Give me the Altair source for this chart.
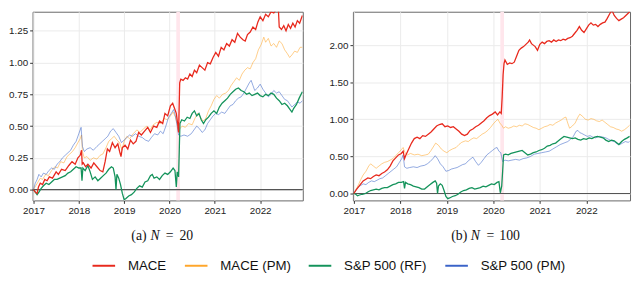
import altair as alt
import pandas as pd

SERIES = ["MACE", "MACE (PM)", "S&P 500 (RF)", "S&P 500 (PM)"]
COLORS = ["#E8291D", "#FFA62B", "#14935B", "#3A63C8"]
YEARS = [2017, 2018, 2019, 2020, 2021, 2022]
X_DOMAIN = [2016.98, 2022.94]
COVID_START = [2020.15]
COVID_END = [2020.23]

# ---------------- panel (a): N = 20 ----------------
a_yticks = [0.0, 0.25, 0.50, 0.75, 1.00, 1.25]
a_ydomain = [-0.085, 1.40]
a_caption = ["(a)", "N", "=", "20"]

a_mace_t = [2017.00, 2017.04, 2017.08, 2017.11, 2017.15, 2017.2, 2017.25, 2017.3, 2017.35, 2017.42, 2017.5, 2017.55, 2017.62, 2017.7, 2017.78, 2017.85, 2017.92, 2017.98, 2018.03, 2018.06, 2018.075, 2018.1, 2018.15, 2018.2, 2018.27, 2018.33, 2018.4, 2018.47, 2018.53, 2018.58, 2018.63, 2018.68, 2018.74, 2018.8, 2018.86, 2018.9, 2018.93, 2018.96, 2019.02, 2019.08, 2019.14, 2019.2, 2019.26, 2019.32, 2019.38, 2019.45, 2019.52, 2019.58, 2019.65, 2019.72, 2019.78, 2019.85, 2019.9, 2019.96, 2020.02, 2020.07, 2020.11, 2020.15, 2020.18, 2020.2, 2020.21, 2020.225, 2020.25, 2020.3, 2020.35, 2020.4, 2020.45, 2020.5, 2020.55, 2020.6, 2020.66, 2020.72, 2020.78, 2020.84, 2020.9, 2020.96, 2021.02, 2021.08, 2021.14, 2021.2, 2021.26, 2021.32, 2021.38, 2021.44, 2021.5, 2021.56, 2021.62, 2021.67, 2021.72, 2021.78, 2021.84, 2021.9, 2021.95, 2022.0, 2022.06, 2022.12, 2022.18, 2022.24, 2022.3, 2022.36, 2022.4, 2022.42, 2022.47, 2022.52, 2022.57, 2022.62, 2022.67, 2022.72, 2022.77, 2022.82, 2022.87, 2022.93]
a_mace_v = [0.00, -0.02, -0.03, 0.02, 0.05, 0.04, 0.08, 0.07, 0.10, 0.09, 0.14, 0.12, 0.16, 0.15, 0.19, 0.22, 0.20, 0.25, 0.27, 0.31, 0.20, 0.21, 0.18, 0.20, 0.17, 0.21, 0.18, 0.15, 0.14, 0.22, 0.32, 0.30, 0.37, 0.33, 0.36, 0.30, 0.26, 0.33, 0.35, 0.32, 0.39, 0.36, 0.38, 0.45, 0.43, 0.46, 0.49, 0.45, 0.50, 0.49, 0.54, 0.52, 0.60, 0.58, 0.66, 0.68, 0.64, 0.60, 0.52, 0.45, 0.60, 0.84, 0.87, 0.86, 0.88, 0.87, 0.91, 0.89, 0.94, 0.92, 0.98, 0.96, 0.94, 1.00, 0.99, 1.04, 1.08, 1.05, 1.12, 1.10, 1.15, 1.13, 1.18, 1.16, 1.23, 1.20, 1.18, 1.17, 1.22, 1.24, 1.28, 1.26, 1.32, 1.36, 1.33, 1.38, 1.36, 1.40, 1.39, 1.42, 1.43, 1.28, 1.26, 1.29, 1.25, 1.30, 1.27, 1.31, 1.28, 1.33, 1.31, 1.37]

a_macepm_t = [2017.0, 2017.05, 2017.1, 2017.15, 2017.2, 2017.27, 2017.33, 2017.4, 2017.47, 2017.53, 2017.6, 2017.67, 2017.74, 2017.8, 2017.86, 2017.92, 2017.98, 2018.03, 2018.06, 2018.08, 2018.12, 2018.18, 2018.25, 2018.32, 2018.4, 2018.47, 2018.53, 2018.6, 2018.66, 2018.72, 2018.78, 2018.84, 2018.9, 2018.95, 2019.0, 2019.06, 2019.12, 2019.2, 2019.28, 2019.35, 2019.43, 2019.5, 2019.57, 2019.64, 2019.72, 2019.8, 2019.88, 2019.95, 2020.02, 2020.08, 2020.13, 2020.17, 2020.2, 2020.23, 2020.28, 2020.35, 2020.42, 2020.5, 2020.56, 2020.62, 2020.68, 2020.74, 2020.8, 2020.86, 2020.92, 2020.98, 2021.04, 2021.1, 2021.17, 2021.24, 2021.3, 2021.36, 2021.42, 2021.48, 2021.54, 2021.6, 2021.66, 2021.72, 2021.78, 2021.84, 2021.9, 2021.96, 2022.02, 2022.08, 2022.12, 2022.18, 2022.24, 2022.3, 2022.36, 2022.42, 2022.48, 2022.54, 2022.6, 2022.65, 2022.7, 2022.76, 2022.82, 2022.88, 2022.93]
a_macepm_v = [0.0, 0.03, 0.06, 0.09, 0.08, 0.12, 0.11, 0.15, 0.18, 0.17, 0.22, 0.21, 0.26, 0.28, 0.30, 0.33, 0.37, 0.40, 0.43, 0.30, 0.25, 0.26, 0.23, 0.25, 0.24, 0.27, 0.28, 0.33, 0.38, 0.40, 0.42, 0.39, 0.37, 0.31, 0.38, 0.42, 0.40, 0.44, 0.47, 0.45, 0.48, 0.50, 0.47, 0.51, 0.53, 0.52, 0.56, 0.55, 0.58, 0.61, 0.57, 0.52, 0.46, 0.48, 0.50, 0.49, 0.52, 0.51, 0.56, 0.60, 0.57, 0.54, 0.56, 0.62, 0.66, 0.71, 0.74, 0.72, 0.75, 0.76, 0.78, 0.82, 0.85, 0.88, 0.86, 0.91, 0.94, 0.96, 0.95, 1.00, 1.03, 1.10, 1.14, 1.20, 1.16, 1.19, 1.13, 1.15, 1.12, 1.17, 1.15, 1.10, 1.07, 1.04, 1.06, 1.09, 1.08, 1.12, 1.12]

a_sprf_t = [2017.0, 2017.04, 2017.08, 2017.12, 2017.17, 2017.22, 2017.28, 2017.34, 2017.4, 2017.46, 2017.52, 2017.58, 2017.64, 2017.7, 2017.76, 2017.82, 2017.88, 2017.94, 2018.0, 2018.05, 2018.07, 2018.09, 2018.14, 2018.2, 2018.25, 2018.3, 2018.36, 2018.42, 2018.48, 2018.54, 2018.6, 2018.66, 2018.72, 2018.76, 2018.8, 2018.82, 2018.84, 2018.88, 2018.92, 2018.96, 2019.0, 2019.04, 2019.1, 2019.16, 2019.22, 2019.28, 2019.34, 2019.4, 2019.46, 2019.52, 2019.58, 2019.62, 2019.66, 2019.72, 2019.78, 2019.84, 2019.9, 2019.96, 2020.02, 2020.08, 2020.12, 2020.15, 2020.17, 2020.2, 2020.215, 2020.23, 2020.27, 2020.33, 2020.39, 2020.45, 2020.5, 2020.55, 2020.6, 2020.65, 2020.7, 2020.75, 2020.8, 2020.86, 2020.92, 2020.98, 2021.04, 2021.1, 2021.16, 2021.22, 2021.28, 2021.34, 2021.4, 2021.46, 2021.52, 2021.58, 2021.64, 2021.7, 2021.76, 2021.82, 2021.88, 2021.94, 2022.0, 2022.06, 2022.12, 2022.18, 2022.24, 2022.3, 2022.36, 2022.42, 2022.48, 2022.54, 2022.6, 2022.66, 2022.7, 2022.74, 2022.8, 2022.86, 2022.93]
a_sprf_v = [0.0, -0.02, -0.04, -0.02, 0.01, 0.03, 0.05, 0.04, 0.06, 0.08, 0.08, 0.09, 0.10, 0.11, 0.13, 0.14, 0.16, 0.18, 0.17, 0.17, 0.07, 0.17, 0.15, 0.19, 0.14, 0.08, 0.10, 0.07, 0.09, 0.11, 0.13, 0.16, 0.18, 0.17, 0.10, 0.00, 0.12, 0.09, 0.04, -0.03, -0.08, -0.07, -0.05, -0.04, -0.02, 0.01, 0.03, 0.02, 0.06, 0.07, 0.11, 0.12, 0.09, 0.10, 0.08, 0.11, 0.13, 0.12, 0.14, 0.17, 0.15, 0.02, 0.14, 0.10, 0.30, 0.52, 0.55, 0.54, 0.57, 0.56, 0.60, 0.62, 0.58, 0.60, 0.55, 0.52, 0.55, 0.57, 0.60, 0.62, 0.60, 0.65, 0.68, 0.70, 0.72, 0.75, 0.77, 0.79, 0.80, 0.78, 0.77, 0.75, 0.76, 0.74, 0.75, 0.76, 0.74, 0.73, 0.75, 0.74, 0.76, 0.75, 0.72, 0.70, 0.67, 0.68, 0.66, 0.63, 0.61, 0.64, 0.67, 0.72, 0.77]

a_sppm_t = [2017.0, 2017.04, 2017.08, 2017.12, 2017.17, 2017.22, 2017.28, 2017.34, 2017.4, 2017.46, 2017.52, 2017.58, 2017.64, 2017.7, 2017.76, 2017.82, 2017.88, 2017.94, 2018.0, 2018.05, 2018.08, 2018.12, 2018.18, 2018.25, 2018.32, 2018.4, 2018.46, 2018.52, 2018.58, 2018.64, 2018.7, 2018.76, 2018.82, 2018.88, 2018.94, 2019.0, 2019.06, 2019.12, 2019.18, 2019.25, 2019.32, 2019.4, 2019.47, 2019.54, 2019.6, 2019.67, 2019.74, 2019.8, 2019.86, 2019.92, 2019.98, 2020.04, 2020.09, 2020.13, 2020.17, 2020.2, 2020.25, 2020.32, 2020.4, 2020.48, 2020.54, 2020.6, 2020.66, 2020.72, 2020.78, 2020.84, 2020.9, 2020.96, 2021.02, 2021.08, 2021.15, 2021.22, 2021.28, 2021.34, 2021.4, 2021.46, 2021.52, 2021.58, 2021.64, 2021.7, 2021.76, 2021.8, 2021.84, 2021.88, 2021.94, 2022.0, 2022.06, 2022.12, 2022.18, 2022.24, 2022.3, 2022.36, 2022.42, 2022.48, 2022.54, 2022.6, 2022.66, 2022.7, 2022.76, 2022.82, 2022.88, 2022.93]
a_sppm_v = [0.0, 0.05, 0.08, 0.12, 0.10, 0.13, 0.12, 0.15, 0.17, 0.16, 0.20, 0.22, 0.25, 0.27, 0.29, 0.31, 0.35, 0.38, 0.44, 0.49, 0.34, 0.30, 0.32, 0.33, 0.31, 0.34, 0.36, 0.38, 0.40, 0.42, 0.46, 0.48, 0.45, 0.42, 0.37, 0.39, 0.41, 0.43, 0.42, 0.44, 0.42, 0.41, 0.39, 0.38, 0.41, 0.44, 0.43, 0.46, 0.44, 0.50, 0.57, 0.60, 0.63, 0.58, 0.50, 0.43, 0.42, 0.43, 0.42, 0.44, 0.47, 0.50, 0.48, 0.45, 0.47, 0.52, 0.55, 0.58, 0.60, 0.59, 0.61, 0.60, 0.63, 0.66, 0.67, 0.70, 0.72, 0.73, 0.76, 0.80, 0.84, 0.86, 0.82, 0.78, 0.80, 0.83, 0.79, 0.76, 0.73, 0.75, 0.78, 0.76, 0.77, 0.74, 0.71, 0.70, 0.67, 0.65, 0.67, 0.69, 0.68, 0.70]

# ---------------- panel (b): N = 100 ----------------
b_yticks = [0.0, 0.50, 1.00, 1.50, 2.00]
b_ydomain = [-0.093, 2.45]
b_caption = ["(b)", "N", "=", "100"]

b_mace_t = [2017.0, 2017.05, 2017.1, 2017.15, 2017.2, 2017.25, 2017.3, 2017.36, 2017.42, 2017.48, 2017.54, 2017.6, 2017.66, 2017.72, 2017.78, 2017.84, 2017.9, 2017.96, 2018.02, 2018.06, 2018.09, 2018.12, 2018.18, 2018.24, 2018.3, 2018.36, 2018.42, 2018.48, 2018.54, 2018.6, 2018.66, 2018.72, 2018.78, 2018.84, 2018.9, 2018.96, 2019.02, 2019.08, 2019.14, 2019.2, 2019.26, 2019.32, 2019.38, 2019.44, 2019.5, 2019.56, 2019.62, 2019.68, 2019.74, 2019.8, 2019.86, 2019.92, 2019.98, 2020.04, 2020.09, 2020.14, 2020.17, 2020.19, 2020.21, 2020.23, 2020.25, 2020.3, 2020.35, 2020.4, 2020.45, 2020.5, 2020.55, 2020.6, 2020.65, 2020.7, 2020.75, 2020.78, 2020.82, 2020.86, 2020.9, 2020.95, 2021.0, 2021.05, 2021.1, 2021.15, 2021.2, 2021.25, 2021.3, 2021.35, 2021.4, 2021.45, 2021.5, 2021.55, 2021.6, 2021.65, 2021.7, 2021.75, 2021.8, 2021.85, 2021.9, 2021.95, 2022.0, 2022.05, 2022.1, 2022.15, 2022.2, 2022.25, 2022.3, 2022.35, 2022.4, 2022.45, 2022.5, 2022.55, 2022.6, 2022.65, 2022.7, 2022.75, 2022.8, 2022.85, 2022.9, 2022.93]
b_mace_v = [0.0, 0.05, 0.09, 0.13, 0.17, 0.19, 0.21, 0.20, 0.23, 0.25, 0.24, 0.27, 0.29, 0.32, 0.37, 0.44, 0.48, 0.52, 0.54, 0.57, 0.47, 0.52, 0.60, 0.68, 0.74, 0.76, 0.74, 0.78, 0.77, 0.80, 0.83, 0.87, 0.91, 0.93, 0.94, 0.90, 0.91, 0.89, 0.90, 0.87, 0.84, 0.80, 0.78, 0.80, 0.85, 0.87, 0.90, 0.92, 0.95, 0.98, 1.02, 1.05, 1.07, 1.10, 1.06, 1.10, 1.08, 1.30, 1.60, 1.75, 1.80, 1.74, 1.76, 1.75, 1.77, 1.85, 1.93, 1.96, 1.98, 2.01, 2.04, 2.07, 2.02, 2.00, 1.98, 1.93, 2.01, 2.04, 2.02, 2.05, 2.06, 2.04, 2.07, 2.05, 2.07, 2.06, 2.08, 2.07, 2.09, 2.10, 2.12, 2.16, 2.20, 2.25, 2.20, 2.17, 2.22, 2.27, 2.30, 2.27, 2.28, 2.25, 2.28, 2.30, 2.31, 2.36, 2.42, 2.47, 2.40, 2.36, 2.33, 2.35, 2.37, 2.40, 2.43, 2.45]

b_macepm_t = [2017.0, 2017.05, 2017.1, 2017.15, 2017.2, 2017.26, 2017.32, 2017.36, 2017.42, 2017.48, 2017.54, 2017.6, 2017.66, 2017.72, 2017.78, 2017.84, 2017.9, 2017.96, 2018.02, 2018.06, 2018.1, 2018.15, 2018.22, 2018.3, 2018.38, 2018.46, 2018.54, 2018.6, 2018.66, 2018.72, 2018.76, 2018.82, 2018.88, 2018.94, 2019.0, 2019.06, 2019.12, 2019.2, 2019.26, 2019.32, 2019.4, 2019.46, 2019.52, 2019.58, 2019.64, 2019.7, 2019.76, 2019.82, 2019.88, 2019.94, 2020.0, 2020.06, 2020.1, 2020.14, 2020.18, 2020.22, 2020.26, 2020.32, 2020.38, 2020.44, 2020.5, 2020.56, 2020.62, 2020.68, 2020.74, 2020.8, 2020.86, 2020.92, 2020.98, 2021.04, 2021.1, 2021.16, 2021.22, 2021.28, 2021.34, 2021.4, 2021.46, 2021.52, 2021.56, 2021.6, 2021.64, 2021.7, 2021.76, 2021.82, 2021.86, 2021.92, 2021.98, 2022.04, 2022.1, 2022.16, 2022.22, 2022.28, 2022.34, 2022.4, 2022.46, 2022.52, 2022.58, 2022.64, 2022.7, 2022.76, 2022.82, 2022.88, 2022.93]
b_macepm_v = [0.0, 0.06, 0.12, 0.19, 0.25, 0.30, 0.37, 0.40, 0.37, 0.34, 0.37, 0.40, 0.42, 0.43, 0.45, 0.47, 0.51, 0.55, 0.59, 0.62, 0.55, 0.52, 0.54, 0.52, 0.53, 0.51, 0.52, 0.53, 0.58, 0.64, 0.68, 0.65, 0.60, 0.57, 0.55, 0.58, 0.60, 0.62, 0.66, 0.69, 0.71, 0.70, 0.73, 0.75, 0.74, 0.77, 0.80, 0.82, 0.85, 0.89, 0.94, 0.98, 1.00, 0.95, 0.92, 0.88, 0.90, 0.88, 0.89, 0.91, 0.90, 0.92, 0.91, 0.94, 0.93, 0.91, 0.89, 0.88, 0.86, 0.88, 0.90, 0.91, 0.93, 0.92, 0.95, 0.97, 0.99, 1.02, 1.03, 0.95, 0.88, 0.91, 0.95, 1.03, 1.07, 1.04, 1.00, 0.99, 1.01, 1.00, 0.98, 0.97, 0.99, 0.96, 0.93, 0.90, 0.89, 0.87, 0.86, 0.84, 0.86, 0.89, 0.92]

b_sprf_t = [2017.0, 2017.04, 2017.08, 2017.12, 2017.18, 2017.25, 2017.3, 2017.36, 2017.42, 2017.48, 2017.54, 2017.6, 2017.66, 2017.72, 2017.78, 2017.84, 2017.9, 2017.96, 2018.02, 2018.07, 2018.09, 2018.11, 2018.16, 2018.22, 2018.28, 2018.34, 2018.4, 2018.46, 2018.52, 2018.58, 2018.64, 2018.7, 2018.75, 2018.78, 2018.8, 2018.82, 2018.86, 2018.9, 2018.94, 2018.98, 2019.02, 2019.06, 2019.12, 2019.18, 2019.24, 2019.3, 2019.36, 2019.42, 2019.48, 2019.54, 2019.6, 2019.66, 2019.72, 2019.78, 2019.84, 2019.9, 2019.96, 2020.02, 2020.08, 2020.12, 2020.15, 2020.18, 2020.2, 2020.22, 2020.26, 2020.32, 2020.38, 2020.44, 2020.5, 2020.56, 2020.62, 2020.68, 2020.74, 2020.8, 2020.86, 2020.92, 2020.98, 2021.04, 2021.1, 2021.16, 2021.22, 2021.28, 2021.34, 2021.4, 2021.46, 2021.52, 2021.58, 2021.64, 2021.7, 2021.76, 2021.82, 2021.88, 2021.94, 2022.0, 2022.06, 2022.12, 2022.18, 2022.24, 2022.3, 2022.36, 2022.42, 2022.48, 2022.54, 2022.6, 2022.66, 2022.7, 2022.76, 2022.82, 2022.88, 2022.93]
b_sprf_v = [0.0, -0.01, -0.03, -0.02, -0.01, 0.00, 0.02, 0.04, 0.05, 0.06, 0.05, 0.07, 0.08, 0.08, 0.10, 0.12, 0.13, 0.15, 0.15, 0.16, 0.07, 0.15, 0.13, 0.12, 0.10, 0.09, 0.08, 0.06, 0.06, 0.09, 0.12, 0.15, 0.17, 0.14, 0.00, 0.10, 0.13, 0.11, 0.04, -0.04, -0.07, -0.06, -0.04, -0.03, -0.01, 0.02, 0.04, 0.05, 0.07, 0.08, 0.06, 0.07, 0.08, 0.10, 0.09, 0.11, 0.13, 0.12, 0.15, 0.16, 0.01, 0.10, 0.30, 0.52, 0.53, 0.52, 0.54, 0.55, 0.56, 0.57, 0.58, 0.55, 0.52, 0.53, 0.55, 0.56, 0.58, 0.59, 0.61, 0.64, 0.65, 0.67, 0.68, 0.71, 0.74, 0.77, 0.76, 0.75, 0.74, 0.75, 0.73, 0.72, 0.74, 0.73, 0.75, 0.74, 0.76, 0.77, 0.76, 0.75, 0.72, 0.70, 0.72, 0.71, 0.68, 0.66, 0.70, 0.73, 0.75, 0.77]

b_sppm_t = [2017.0, 2017.05, 2017.1, 2017.15, 2017.2, 2017.26, 2017.32, 2017.38, 2017.44, 2017.5, 2017.56, 2017.62, 2017.68, 2017.74, 2017.8, 2017.86, 2017.92, 2017.98, 2018.03, 2018.06, 2018.09, 2018.14, 2018.2, 2018.28, 2018.36, 2018.44, 2018.52, 2018.58, 2018.64, 2018.7, 2018.75, 2018.8, 2018.86, 2018.92, 2018.98, 2019.04, 2019.1, 2019.16, 2019.22, 2019.28, 2019.34, 2019.4, 2019.46, 2019.52, 2019.56, 2019.62, 2019.68, 2019.74, 2019.8, 2019.86, 2019.92, 2019.98, 2020.04, 2020.08, 2020.12, 2020.16, 2020.2, 2020.25, 2020.32, 2020.4, 2020.48, 2020.56, 2020.64, 2020.72, 2020.8, 2020.88, 2020.96, 2021.04, 2021.12, 2021.2, 2021.28, 2021.36, 2021.44, 2021.52, 2021.6, 2021.66, 2021.72, 2021.78, 2021.82, 2021.86, 2021.9, 2021.96, 2022.02, 2022.08, 2022.14, 2022.2, 2022.28, 2022.36, 2022.42, 2022.48, 2022.54, 2022.6, 2022.66, 2022.72, 2022.78, 2022.84, 2022.9, 2022.93]
b_sppm_v = [0.0, 0.05, 0.09, 0.11, 0.13, 0.12, 0.15, 0.17, 0.16, 0.18, 0.20, 0.21, 0.24, 0.27, 0.30, 0.33, 0.36, 0.42, 0.47, 0.52, 0.36, 0.34, 0.35, 0.36, 0.35, 0.37, 0.38, 0.40, 0.43, 0.47, 0.51, 0.47, 0.40, 0.36, 0.30, 0.31, 0.33, 0.34, 0.35, 0.37, 0.39, 0.40, 0.44, 0.47, 0.49, 0.43, 0.38, 0.42, 0.47, 0.52, 0.55, 0.58, 0.61, 0.62, 0.57, 0.55, 0.43, 0.45, 0.44, 0.45, 0.46, 0.45, 0.47, 0.48, 0.50, 0.53, 0.54, 0.55, 0.56, 0.57, 0.60, 0.63, 0.66, 0.68, 0.70, 0.73, 0.77, 0.84, 0.85, 0.82, 0.81, 0.79, 0.77, 0.78, 0.76, 0.75, 0.77, 0.76, 0.75, 0.73, 0.71, 0.70, 0.67, 0.66, 0.68, 0.70, 0.69, 0.70]


def long_frame(items):
    rows = []
    for name, ts, vs in items:
        for t, v in zip(ts, vs):
            rows.append({"t": t, "v": v, "series": name})
    return pd.DataFrame(rows)


LEGEND = alt.Legend(
    orient="none", legendX=60, legendY=246, direction="horizontal", title=None,
    symbolType="stroke", symbolSize=529, symbolStrokeWidth=2, symbolOpacity=1,
    labelFont="Liberation Sans", labelFontSize=13.5, labelColor="#111111",
    labelOffset=12, columnPadding=14, padding=0,
)


def panel(thick_items, thin_items, ydomain, yticks, width, caption, cap_offsets):
    x = alt.X("t:Q", scale=alt.Scale(domain=X_DOMAIN, nice=False, zero=False),
              axis=alt.Axis(values=YEARS, format="d", title=None, labelFlush=False))
    y = alt.Y("v:Q", scale=alt.Scale(domain=ydomain, nice=False, zero=False),
              axis=alt.Axis(values=yticks, format=".2f", title=None))
    color = alt.Color("series:N", scale=alt.Scale(domain=SERIES, range=COLORS), legend=LEGEND)

    band = alt.Chart(pd.DataFrame({"t": COVID_START, "t2": COVID_END})).mark_rect(
        color="#FFE6EC").encode(x=x, x2="t2:Q")
    zero = alt.Chart(pd.DataFrame({"v": [0.0]})).mark_rule(
        color="#555555", strokeWidth=1.2).encode(y=y)
    thin = alt.Chart(long_frame(thin_items)).mark_line(
        strokeWidth=0.85, opacity=0.65, clip=True).encode(x=x, y=y, color=color)
    thick = alt.Chart(long_frame(thick_items)).mark_line(
        strokeWidth=1.3, clip=True).encode(x=x, y=y, color=color)

    texts = []
    for part, off in zip(caption, cap_offsets):
        texts.append(
            alt.Chart(pd.DataFrame({"s": [part]})).mark_text(
                align="left", baseline="middle", font="Liberation Serif", fontSize=14,
                fontStyle="italic" if part == "N" else "normal", color="#111111",
            ).encode(text="s:N", x=alt.value(off), y=alt.value(228))
        )
    return alt.layer(band, zero, thin, thick, *texts).properties(width=width, height=192)


panel_a = panel(
    [("S&P 500 (RF)", a_sprf_t, a_sprf_v), ("MACE", a_mace_t, a_mace_v)],
    [("MACE (PM)", a_macepm_t, a_macepm_v), ("S&P 500 (PM)", a_sppm_t, a_sppm_v)],
    a_ydomain, a_yticks, 275, a_caption, [100.5, 120, 135.5, 149.5],
)
panel_b = panel(
    [("S&P 500 (RF)", b_sprf_t, b_sprf_v), ("MACE", b_mace_t, b_mace_v)],
    [("MACE (PM)", b_macepm_t, b_macepm_v), ("S&P 500 (PM)", b_sppm_t, b_sppm_v)],
    b_ydomain, b_yticks, 282, b_caption, [100, 120, 136, 149],
)

chart = alt.hconcat(panel_a, panel_b, spacing=24).properties(
    padding=0,
    title=alt.TitleParams(
        "Figure 3: Cumulative Returns", orient="bottom", anchor="middle",
        font="Liberation Serif", fontSize=14, fontWeight="normal", color="#111111", offset=38,
    ),
).configure_view(
    stroke="#666666", strokeWidth=1
).configure_axis(
    domain=False, tickColor="#333333", tickSize=3, labelPadding=2,
    labelFont="Liberation Sans", labelFontSize=10, labelColor="#222222",
    gridColor="#EBEBEB", gridWidth=1,
)

chart.save("out.html", embed_options={"renderer": "svg", "actions": False})
